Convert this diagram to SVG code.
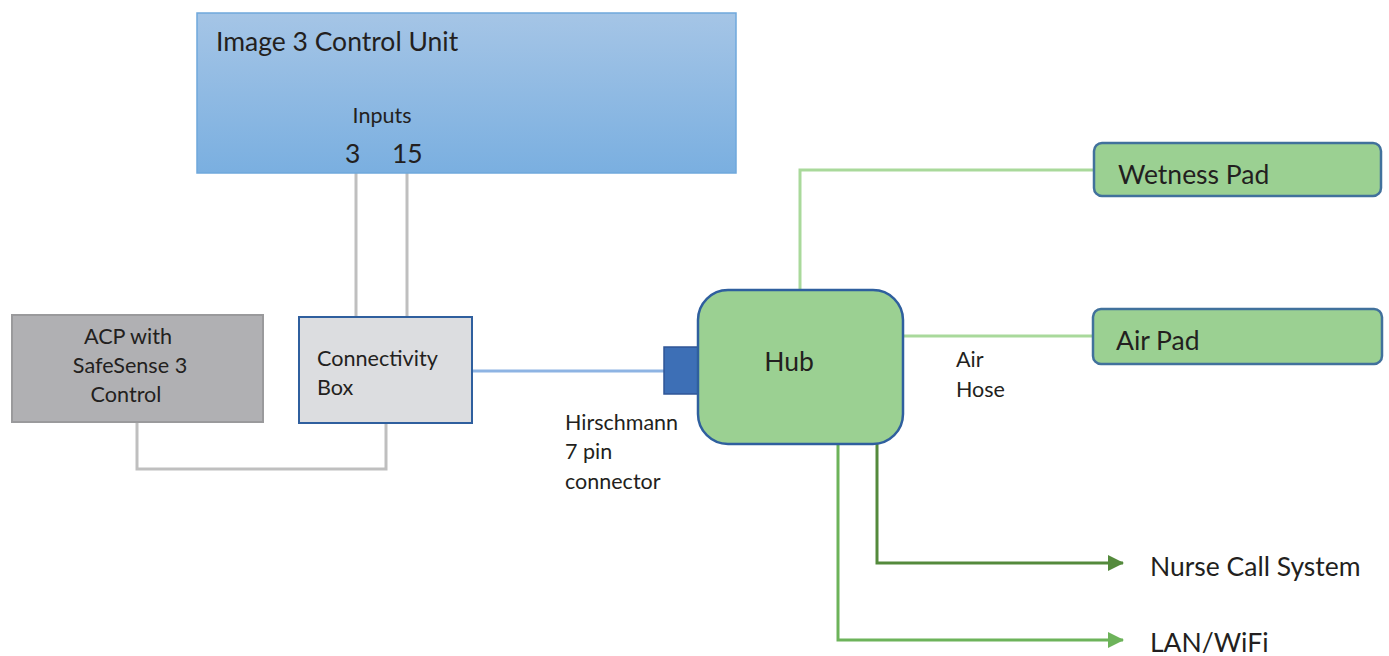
<svg xmlns="http://www.w3.org/2000/svg" width="1389" height="656" viewBox="0 0 1389 656">
<style>
text{font-family:Lato,"Open Sans","Liberation Sans",sans-serif;fill:#231f20}
.big{font-size:26.5px}
.mid{font-size:21.6px}
.sm{font-size:21.5px}
.gray{fill:none;stroke:#bfbfbf;stroke-width:3}
.lg{fill:none;stroke:#a9d99b;stroke-width:3}
.pad{fill:#9bd092;stroke:#41719c;stroke-width:2.5}
</style>
<defs>
<linearGradient id="cu" x1="0" y1="0" x2="0" y2="1">
<stop offset="0" stop-color="#a5c5e6"/>
<stop offset="1" stop-color="#7aafe0"/>
</linearGradient>
<marker id="ad" markerWidth="16" markerHeight="16" refX="15" refY="8" orient="auto" markerUnits="userSpaceOnUse"><path d="M0,0 L16,8 L0,16 Z" fill="#548a3c"/></marker>
<marker id="al" markerWidth="16" markerHeight="16" refX="15" refY="8" orient="auto" markerUnits="userSpaceOnUse"><path d="M0,0 L16,8 L0,16 Z" fill="#6db35a"/></marker>
</defs>
<g id="connectors">
<path class="gray" d="M356,173 V317"/>
<path class="gray" d="M407,173 V317"/>
<path class="gray" d="M137,422 V469 H386 V423"/>
<path d="M472,371 H664" fill="none" stroke="#8eb4e3" stroke-width="3"/>
<path class="lg" d="M800,290 V170 H1095"/>
<path class="lg" d="M903,336 H1094"/>
<path d="M877,444 V563 H1123" fill="none" stroke="#548a3c" stroke-width="3" marker-end="url(#ad)"/>
<path d="M838,444 V640 H1123" fill="none" stroke="#6db35a" stroke-width="3" marker-end="url(#al)"/>
</g>
<g id="control-unit">
<rect x="197" y="13" width="539" height="160" fill="url(#cu)" stroke="#6fa8dc" stroke-width="1.5"/>
<text class="big" x="216" y="51">Image 3 Control Unit</text>
<text class="sm" x="382" y="123" text-anchor="middle">Inputs</text>
<text class="big" x="345" y="163">3</text>
<text class="big" x="392" y="163">15</text>
</g>
<g id="acp">
<rect x="12" y="315" width="251" height="107" fill="#b0b0b3" stroke="#9a9a9c" stroke-width="2"/>
<text class="mid" x="128" y="344" text-anchor="middle">ACP with</text>
<text class="mid" x="130" y="373" text-anchor="middle">SafeSense 3</text>
<text class="mid" x="126" y="402" text-anchor="middle">Control</text>
</g>
<g id="connectivity-box">
<rect x="299" y="317" width="173" height="106" fill="#dcdde0" stroke="#2f5f9e" stroke-width="2"/>
<text class="mid" x="317" y="366">Connectivity</text>
<text class="mid" x="317" y="395">Box</text>
</g>
<g id="hirschmann">
<rect x="664" y="347" width="34" height="47" fill="#3d6fb6" stroke="#2f5597" stroke-width="1.5"/>
<text class="sm" x="565" y="430">Hirschmann</text>
<text class="sm" x="565" y="459">7 pin</text>
<text class="sm" x="565" y="489">connector</text>
</g>
<g id="hub">
<rect x="698" y="290" width="205" height="154" rx="30" fill="#9bd092" stroke="#2f5f9e" stroke-width="2.5"/>
<text class="big" x="789" y="371" text-anchor="middle">Hub</text>
</g>
<g id="wetness-pad">
<rect x="1094" y="143" width="287" height="53" rx="8" class="pad"/>
<text class="big" x="1118" y="184">Wetness Pad</text>
</g>
<g id="air-pad">
<rect x="1093" y="309" width="289" height="55" rx="8" class="pad"/>
<text class="big" x="1116" y="350">Air Pad</text>
<text class="sm" x="956" y="367">Air</text>
<text class="sm" x="956" y="397">Hose</text>
</g>
<g id="nurse-call">
<text class="big" x="1150" y="576">Nurse Call System</text>
</g>
<g id="lan">
<text class="big" x="1150" y="652">LAN/WiFi</text>
</g>
</svg>
